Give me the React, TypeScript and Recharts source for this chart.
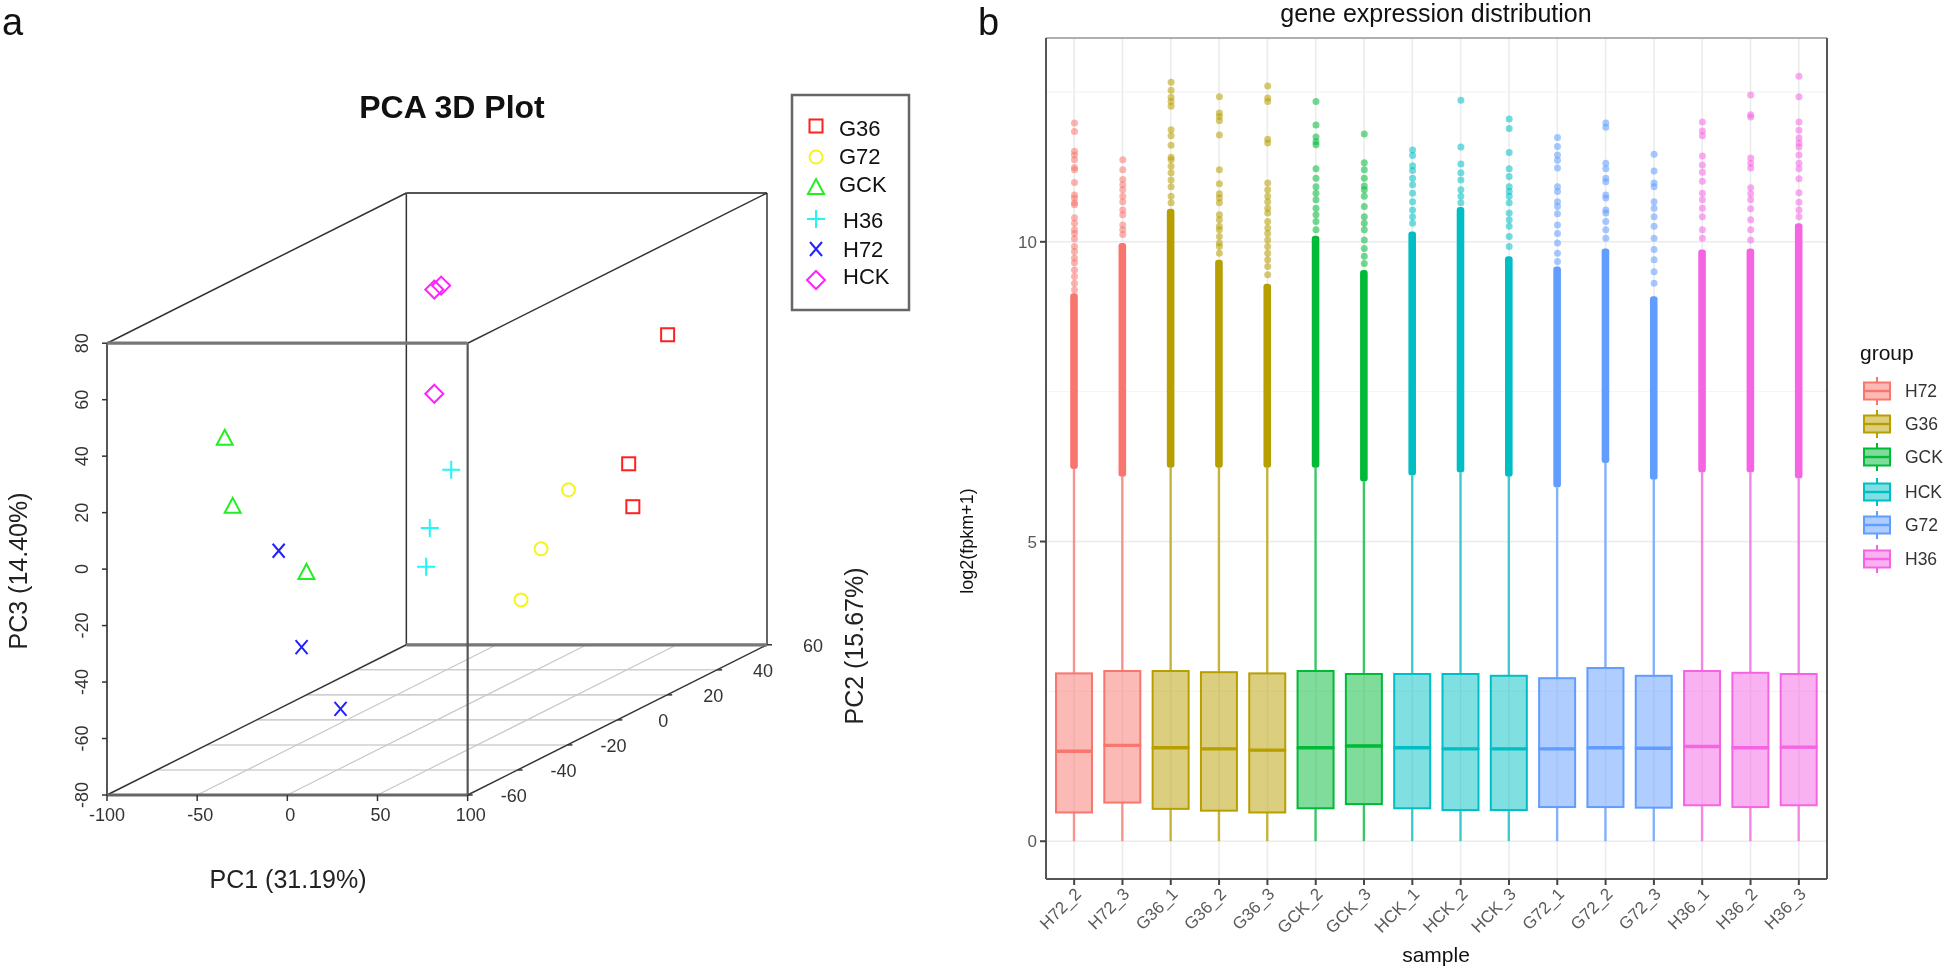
import React from 'react';
import {
  ComposedChart, ScatterChart, Scatter, Bar, XAxis, YAxis, CartesianGrid, ReferenceLine,
} from 'recharts';

const FONT = '"Liberation Sans", Arial, sans-serif';

// ---- panel a: positions are read on the front plane of the box (PC2 = -60)
const g36Points = [{ x: 210.9, y: 83 }, { x: 189.3, y: 37.3 }, { x: 191.6, y: 22.1 }];
const g72Points = [{ x: 155.9, y: 28.1 }, { x: 140.7, y: 7.2 }, { x: 129.6, y: -10.9 }];
const gckPoints = [{ x: -34.7, y: 46.5 }, { x: -30.3, y: 22.4 }, { x: 10.6, y: -1 }];
const h36Points = [{ x: 90.9, y: 35.2 }, { x: 79, y: 14.6 }, { x: 77, y: 0.8 }];
const h72Points = [{ x: -4.8, y: 6.5 }, { x: 7.9, y: -27.6 }, { x: 29.5, y: -49.5 }];
const hckPoints = [{ x: 85.3, y: 100.4 }, { x: 81.5, y: 99 }, { x: 81.5, y: 62.1 }];

const pc1Ticks = [-100, -50, 0, 50, 100];
const pc3Ticks = [-80, -60, -40, -20, 0, 20, 40, 60, 80];
const pc2Ticks = [-60, -40, -20, 0, 20, 40, 60];
const floorPc1 = [-50, 0, 50];
const floorPc2 = [-40, -20, 0, 20, 40];

const DEPTH_X = 166;
const DEPTH_Y = 53.2;
const project = (pc1: number, pc2: number, pc3: number) => ({
  x: pc1 + ((pc2 + 60) / 120) * DEPTH_X,
  y: pc3 + ((pc2 + 60) / 120) * DEPTH_Y,
});

const pcaGroups = [
  { name: 'G36', color: '#ff2020', points: g36Points },
  { name: 'G72', color: '#f5f51e', points: g72Points },
  { name: 'GCK', color: '#22ee22', points: gckPoints },
  { name: 'H36', color: '#22f5f5', points: h36Points },
  { name: 'H72', color: '#2222ff', points: h72Points },
  { name: 'HCK', color: '#ff22ff', points: hckPoints },
];

// ---- panel b
const samples = [
  'H72_2', 'H72_3', 'G36_1', 'G36_2', 'G36_3', 'GCK_2', 'GCK_3', 'HCK_1',
  'HCK_2', 'HCK_3', 'G72_1', 'G72_2', 'G72_3', 'H36_1', 'H36_2', 'H36_3',
];
const q1Values = [0.48, 0.645, 0.54, 0.51, 0.48, 0.55, 0.62, 0.55, 0.52, 0.52, 0.57, 0.57, 0.56, 0.6, 0.57, 0.6];
const medianValues = [1.5, 1.6, 1.56, 1.54, 1.52, 1.56, 1.59, 1.56, 1.54, 1.54, 1.54, 1.56, 1.55, 1.58, 1.56, 1.57];
const q3Values = [2.8, 2.84, 2.84, 2.82, 2.8, 2.84, 2.79, 2.79, 2.79, 2.76, 2.72, 2.89, 2.76, 2.84, 2.81, 2.79];
const whiskerTops = [6.21, 6.08, 6.23, 6.23, 6.23, 6.23, 6.0, 6.1, 6.15, 6.08, 5.9, 6.31, 6.03, 6.15, 6.15, 6.05];
const denseTops = [9.14, 9.98, 10.55, 9.7, 9.3, 10.1, 9.53, 10.17, 10.58, 9.76, 9.59, 9.89, 9.09, 9.87, 9.89, 10.31];

const outH72_2 = [11.98, 11.84, 11.51, 11.45, 11.37, 11.24, 11.2, 10.99, 10.78, 10.73, 10.65, 10.62, 10.4, 10.31, 10.2, 10.14, 10.05, 9.92, 9.84, 9.73, 9.65, 9.53, 9.42, 9.31, 9.2];
const outH72_3 = [11.37, 11.2, 11.04, 10.95, 10.87, 10.76, 10.67, 10.53, 10.45, 10.28, 10.2, 10.12];
const outG36_1 = [12.66, 12.53, 12.41, 12.34, 12.26, 11.87, 11.77, 11.61, 11.41, 11.37, 11.26, 11.15, 11.03, 10.92, 10.76, 10.65];
const outG36_2 = [12.42, 12.15, 12.09, 12.02, 11.78, 11.2, 10.97, 10.8, 10.73, 10.65, 10.45, 10.37, 10.26, 10.2, 10.09, 9.98, 9.92, 9.81];
const outG36_3 = [12.6, 12.4, 12.34, 11.71, 11.65, 10.98, 10.87, 10.76, 10.67, 10.56, 10.48, 10.34, 10.23, 10.14, 10.03, 9.92, 9.81, 9.7, 9.59, 9.45];
const outGCK_2 = [12.34, 11.95, 11.75, 11.67, 11.62, 11.22, 11.06, 10.92, 10.81, 10.7, 10.56, 10.45, 10.34, 10.2];
const outGCK_3 = [11.8, 11.32, 11.2, 11.06, 10.93, 10.87, 10.76, 10.59, 10.42, 10.31, 10.2, 10.03, 9.89, 9.76, 9.64];
const outHCK_1 = [11.53, 11.44, 11.27, 11.19, 11.06, 10.95, 10.81, 10.67, 10.53, 10.42, 10.31];
const outHCK_2 = [12.36, 11.58, 11.3, 11.15, 11.03, 10.87, 10.76, 10.65];
const outHCK_3 = [12.05, 11.89, 11.49, 11.22, 11.09, 10.92, 10.84, 10.76, 10.65, 10.48, 10.37, 10.26, 10.09, 9.92];
const outG72_1 = [11.74, 11.59, 11.45, 11.36, 11.23, 10.92, 10.84, 10.67, 10.59, 10.47, 10.28, 10.14, 9.98, 9.81, 9.67];
const outG72_2 = [11.98, 11.91, 11.31, 11.22, 11.06, 11.0, 10.78, 10.73, 10.53, 10.48, 10.34, 10.2, 10.06];
const outG72_3 = [11.46, 11.18, 10.98, 10.92, 10.67, 10.56, 10.42, 10.26, 10.06, 9.87, 9.7, 9.5, 9.31];
const outH36_1 = [12.0, 11.85, 11.77, 11.43, 11.28, 11.16, 11.01, 10.81, 10.7, 10.56, 10.42, 10.2, 10.06];
const outH36_2 = [12.45, 12.12, 12.08, 11.4, 11.31, 11.23, 10.9, 10.8, 10.7, 10.55, 10.37, 10.2, 10.03];
const outH36_3 = [12.76, 12.42, 12.0, 11.86, 11.73, 11.65, 11.58, 11.45, 11.31, 11.22, 11.05, 10.82, 10.66, 10.53, 10.42];
const outliers = [
  outH72_2, outH72_3, outG36_1, outG36_2, outG36_3, outGCK_2, outGCK_3, outHCK_1,
  outHCK_2, outHCK_3, outG72_1, outG72_2, outG72_3, outH36_1, outH36_2, outH36_3,
];

const groupNames = ['H72', 'G36', 'GCK', 'HCK', 'G72', 'H36'];
const groupColors: Record<string, string> = {
  H72: '#F8766D', G36: '#B79F00', GCK: '#00BA38', HCK: '#00BFC4', G72: '#619CFF', H36: '#F564E3',
};

const boxRows = samples.map((sample, i) => ({
  sample,
  color: groupColors[sample.slice(0, 3)],
  lowerWhisker: q1Values[i],
  lowerBox: medianValues[i] - q1Values[i],
  upperBox: q3Values[i] - medianValues[i],
  upperWhisker: whiskerTops[i] - q3Values[i],
  dense: denseTops[i] - whiskerTops[i],
}));

// ---- shapes
const Marker = ({ name, cx, cy, color }: any) => {
  const common = { fill: 'none', stroke: color, strokeWidth: 2 };
  if (name === 'G36') return <rect x={cx - 6.5} y={cy - 6.5} width={13} height={13} {...common} />;
  if (name === 'G72') return <circle cx={cx} cy={cy} r={6.5} {...common} />;
  if (name === 'GCK') return <path d={`M${cx} ${cy - 8}L${cx + 8} ${cy + 7}L${cx - 8} ${cy + 7}Z`} {...common} />;
  if (name === 'H36') return <path d={`M${cx - 9} ${cy}H${cx + 9}M${cx} ${cy - 9}V${cy + 9}`} {...common} />;
  if (name === 'H72') return <path d={`M${cx - 6} ${cy - 7}L${cx + 6} ${cy + 7}M${cx + 6} ${cy - 7}L${cx - 6} ${cy + 7}`} {...common} />;
  return <path d={`M${cx} ${cy - 9}L${cx + 9} ${cy}L${cx} ${cy + 9}L${cx - 9} ${cy}Z`} {...common} />;
};

const WhiskerShape = (props: any) => {
  const { x, y, width, height, payload } = props;
  return <rect x={x + width / 2 - 1.2} y={y} width={2.4} height={height} fill={payload.color} fillOpacity={0.75} />;
};

const DenseShape = (props: any) => {
  const { x, y, width, height, payload } = props;
  return <rect x={x + width / 2 - 3.8} y={y} width={7.6} height={height} rx={3} fill={payload.color} />;
};

const BoxShape = (props: any) => {
  const { x, y, width, height, payload } = props;
  return <rect x={x} y={y} width={width} height={height} fill={payload.color} fillOpacity={0.5} stroke={payload.color} strokeWidth={2} />;
};

const UpperBoxShape = (props: any) => {
  const { x, y, width, height, payload } = props;
  return (
    <g>
      <rect x={x} y={y} width={width} height={height} fill={payload.color} fillOpacity={0.5} stroke={payload.color} strokeWidth={2} />
      <line x1={x} x2={x + width} y1={y + height} y2={y + height} stroke={payload.color} strokeWidth={3.4} />
    </g>
  );
};

const SampleTick = ({ x, y, payload }: any) => (
  <text
    x={x + 8}
    y={y + 8}
    transform={`rotate(-45 ${x + 8} ${y + 8})`}
    textAnchor="end"
    fontSize={17}
    fontFamily={FONT}
    fill="#5a5a5a"
  >
    {payload.value}
  </text>
);

const Pc1Tick = ({ x, y, payload }: any) => (
  <text x={x + (payload.value === -100 ? 0 : 3)} y={y + 18} textAnchor="middle" fontSize={18} fontFamily={FONT} fill="#333">
    {payload.value}
  </text>
);

const Pc3Tick = ({ x, y, payload }: any) => (
  <text
    x={x - 12}
    y={y}
    transform={`rotate(-90 ${x - 12} ${y})`}
    textAnchor="middle"
    fontSize={18}
    fontFamily={FONT}
    fill="#333"
  >
    {payload.value}
  </text>
);

const Pc2TickShape = (props: any) => {
  const { cx, cy, payload } = props;
  return (
    <g>
      <line x1={cx} x2={cx + 5} y1={cy} y2={cy} stroke="#333" strokeWidth={1.5} />
      <text x={cx + 46} y={cy + 7} textAnchor="middle" fontSize={18} fontFamily={FONT} fill="#333">
        {payload.label}
      </text>
    </g>
  );
};

const PcaPanel = () => {
  const edge = (a: number[], b: number[], stroke = '#333', strokeWidth = 1.5) => (
    <ReferenceLine
      key={a.join() + b.join()}
      segment={[project(a[0], a[1], a[2]), project(b[0], b[1], b[2])]}
      stroke={stroke}
      strokeWidth={strokeWidth}
      ifOverflow="visible"
    />
  );
  return (
    <ScatterChart
      width={960}
      height={970}
      margin={{ top: 193, right: 193, bottom: 0, left: 0 }}
      style={{ position: 'absolute', left: 0, top: 0 }}
    >
      <XAxis
        type="number"
        dataKey="x"
        domain={[-100, 266]}
        ticks={pc1Ticks}
        height={175}
        axisLine={false}
        tickSize={6}
        tickLine={{ stroke: '#333', strokeWidth: 1.5 }}
        tick={<Pc1Tick />}
        interval={0}
      />
      <YAxis
        type="number"
        dataKey="y"
        domain={[-80, 133.2]}
        ticks={pc3Ticks}
        width={107}
        axisLine={false}
        tickSize={5}
        tickMargin={2}
        tickLine={{ stroke: '#333', strokeWidth: 1.5 }}
        tick={<Pc3Tick />}
        interval={0}
      />
      {floorPc2.map((v) => edge([-100, v, -80], [100, v, -80], '#d0d0d0', 1.6))}
      {floorPc1.map((v) => edge([v, -60, -80], [v, 60, -80], '#c8c8c8', 1.2))}
      {edge([-100, 60, -80], [-100, 60, 80])}
      {edge([100, 60, -80], [100, 60, 80])}
      {edge([-100, 60, 80], [100, 60, 80], '#555', 2)}
      {edge([-100, -60, 80], [-100, 60, 80])}
      {edge([100, -60, 80], [100, 60, 80])}
      {edge([-100, -60, -80], [-100, 60, -80])}
      {edge([100, -60, -80], [100, 60, -80])}
      {edge([-100, 60, -80], [100, 60, -80], '#777', 3.2)}
      {edge([-100, -60, -80], [-100, -60, 80], '#444', 1.8)}
      {edge([100, -60, -80], [100, -60, 80], '#555', 2.2)}
      {edge([-100, -60, 80], [100, -60, 80], '#777', 3.2)}
      {edge([-100, -60, -80], [100, -60, -80], '#666', 3.2)}
      <Scatter
        data={pc2Ticks.map((v) => ({ ...project(100, v, -80), label: v }))}
        shape={<Pc2TickShape />}
        isAnimationActive={false}
      />
      {pcaGroups.map((g) => (
        <Scatter
          key={g.name}
          name={g.name}
          data={g.points}
          isAnimationActive={false}
          shape={(p: any) => <Marker name={g.name} cx={p.cx} cy={p.cy} color={g.color} />}
        />
      ))}
    </ScatterChart>
  );
};

const ExpressionPanel = () => (
  <ComposedChart
    width={984}
    height={970}
    data={boxRows}
    margin={{ top: 38, right: 117, bottom: 0, left: 0 }}
    style={{ position: 'absolute', left: 960, top: 0 }}
  >
    <CartesianGrid
      stroke="#f5f5f5"
      strokeWidth={1.4}
      vertical={false}
      horizontalValues={[2.5, 7.5, 12.5]}
      xAxisId="cat"
      yAxisId="val"
    />
    <CartesianGrid stroke="#ececec" strokeWidth={1.6} xAxisId="cat" yAxisId="val" />
    <XAxis
      xAxisId="cat"
      dataKey="sample"
      type="category"
      padding={{ left: 4, right: 4 }}
      height={91}
      interval={0}
      tickSize={6}
      tickLine={{ stroke: '#444', strokeWidth: 2 }}
      axisLine={{ stroke: '#555', strokeWidth: 2 }}
      tick={<SampleTick />}
    />
    <YAxis
      yAxisId="val"
      type="number"
      domain={[-0.63, 13.4]}
      ticks={[0, 5, 10]}
      allowDataOverflow
      width={86}
      tickSize={6}
      tickMargin={3}
      tickLine={{ stroke: '#444', strokeWidth: 2 }}
      axisLine={{ stroke: '#555', strokeWidth: 2 }}
      tick={{ fontSize: 17, fontFamily: FONT, fill: '#5a5a5a' }}
    />
    <XAxis xAxisId="num" type="number" dataKey="i" domain={[-0.59, 15.58]} height={0} hide />
    <YAxis yAxisId="num" type="number" dataKey="v" domain={[-0.63, 13.4]} allowDataOverflow width={0} hide />
    <ReferenceLine yAxisId="val" xAxisId="num" y={13.4} stroke="#999" strokeWidth={1.5} />
    <ReferenceLine yAxisId="val" xAxisId="num" x={15.58} stroke="#555" strokeWidth={2} />
    {outliers.map((values, i) => (
      <Scatter
        key={samples[i]}
        xAxisId="num"
        yAxisId="num"
        data={values.map((v) => ({ i, v }))}
        isAnimationActive={false}
        shape={(p: any) => <circle cx={p.cx} cy={p.cy} r={3.5} fill={boxRows[i].color} fillOpacity={0.55} />}
      />
    ))}
    <Bar xAxisId="cat" yAxisId="val" stackId="box" dataKey="lowerWhisker" barSize={36} shape={<WhiskerShape />} isAnimationActive={false} />
    <Bar xAxisId="cat" yAxisId="val" stackId="box" dataKey="lowerBox" barSize={36} shape={<BoxShape />} isAnimationActive={false} />
    <Bar xAxisId="cat" yAxisId="val" stackId="box" dataKey="upperBox" barSize={36} shape={<UpperBoxShape />} isAnimationActive={false} />
    <Bar xAxisId="cat" yAxisId="val" stackId="box" dataKey="upperWhisker" barSize={36} shape={<WhiskerShape />} isAnimationActive={false} />
    <Bar xAxisId="cat" yAxisId="val" stackId="box" dataKey="dense" barSize={36} shape={<DenseShape />} isAnimationActive={false} />
  </ComposedChart>
);

// legends and captions sit in one svg on top of both charts
const pcaLegendRows = [
  { name: 'G36', color: '#ff2020', sy: 126, tx: 839, ty: 136 },
  { name: 'G72', color: '#f5f51e', sy: 157, tx: 839, ty: 164 },
  { name: 'GCK', color: '#22ee22', sy: 187, tx: 839, ty: 192 },
  { name: 'H36', color: '#22f5f5', sy: 219, tx: 843, ty: 228 },
  { name: 'H72', color: '#2222ff', sy: 249, tx: 843, ty: 257 },
  { name: 'HCK', color: '#ff22ff', sy: 280, tx: 843, ty: 284 },
];
const groupKeyY = [391, 424, 457, 492, 525, 559];

const Overlay = () => (
  <svg width={1944} height={970} style={{ position: 'absolute', left: 0, top: 0, pointerEvents: 'none' }} fontFamily={FONT}>
    <text x={2} y={35} fontSize={38} fill="#111">a</text>
    <text x={978} y={35} fontSize={38} fill="#111">b</text>

    <text x={452} y={118} fontSize={32} fontWeight="bold" textAnchor="middle" fill="#111">PCA 3D Plot</text>
    <text x={288} y={888} fontSize={25} textAnchor="middle" fill="#222">PC1 (31.19%)</text>
    <text x={27} y={571} fontSize={25} textAnchor="middle" fill="#222" transform="rotate(-90 27 571)">PC3 (14.40%)</text>
    <text x={863} y={646} fontSize={25} textAnchor="middle" fill="#222" transform="rotate(-90 863 646)">PC2 (15.67%)</text>

    <rect x={792} y={95} width={117} height={215} fill="none" stroke="#666" strokeWidth={2.5} />
    {pcaLegendRows.map((r) => (
      <g key={r.name}>
        <Marker name={r.name} cx={816} cy={r.sy} color={r.color} />
        <text x={r.tx} y={r.ty} fontSize={22} fill="#111">{r.name}</text>
      </g>
    ))}

    <text x={1436} y={22} fontSize={25} textAnchor="middle" fill="#111">gene expression distribution</text>
    <text x={1436} y={962} fontSize={21} textAnchor="middle" fill="#111">sample</text>
    <text x={973} y={541} fontSize={18} textAnchor="middle" fill="#111" transform="rotate(-90 973 541)">log2(fpkm+1)</text>

    <text x={1860} y={360} fontSize={21} fill="#111">group</text>
    {groupNames.map((g, i) => {
      const cy = groupKeyY[i];
      const c = groupColors[g];
      return (
        <g key={g}>
          <line x1={1877} x2={1877} y1={cy - 14} y2={cy + 14} stroke={c} strokeWidth={2} />
          <rect x={1864} y={cy - 8.5} width={26} height={17} fill="#fff" />
          <rect x={1864} y={cy - 8.5} width={26} height={17} fill={c} fillOpacity={0.5} stroke={c} strokeWidth={2} />
          <line x1={1864} x2={1890} y1={cy} y2={cy} stroke={c} strokeWidth={2.4} />
          <text x={1905} y={cy + 6} fontSize={17.5} fill="#333">{g}</text>
        </g>
      );
    })}
  </svg>
);

export default function App() {
  return (
    <div style={{ position: 'absolute', left: 0, top: 0, width: 1944, height: 970, background: '#fff', overflow: 'hidden', filter: 'blur(0.5px)' }}>
      <PcaPanel />
      <ExpressionPanel />
      <Overlay />
    </div>
  );
}
